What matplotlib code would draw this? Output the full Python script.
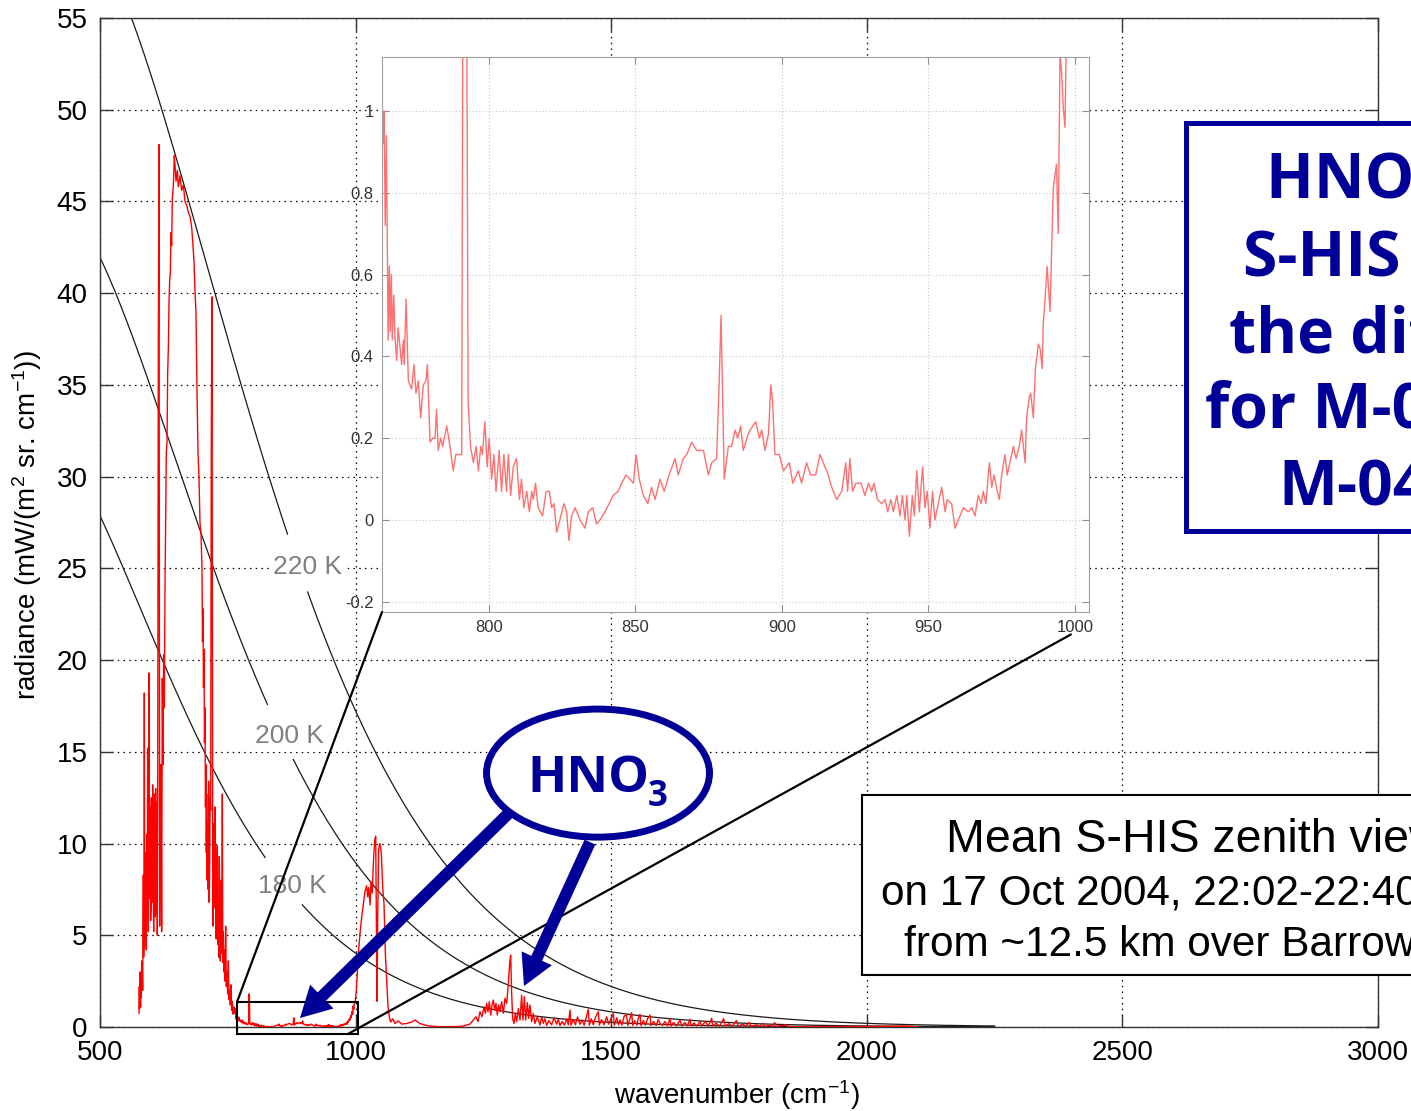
import numpy as np
import matplotlib
matplotlib.use("Agg")
import matplotlib.pyplot as plt
from matplotlib.patches import Rectangle, Ellipse, FancyArrowPatch, ConnectionPatch, ArrowStyle

plt.rcParams['font.family'] = ['Liberation Sans', 'DejaVu Sans']
plt.rcParams['mathtext.fontset'] = 'custom'
plt.rcParams['mathtext.rm'] = 'Liberation Sans'
plt.rcParams['mathtext.it'] = 'Liberation Sans:italic'
plt.rcParams['mathtext.bf'] = 'Liberation Sans:bold'

# ---- mean zenith-view radiance spectrum, mW/(m^2 sr cm^-1) vs wavenumber cm^-1 ----
# CO2 band
co2_wn = [576.3, 576.9, 577.5, 578.2, 578.8, 579.5, 580.1, 580.8, 581.5, 582.1,
          582.8, 583.5, 584.1, 584.8, 585.4, 586.1, 586.7, 587.3, 588.0, 588.6,
          589.3, 589.9, 590.6, 591.2, 591.9, 592.5, 593.2, 593.8, 594.5, 595.1,
          595.8, 596.4, 597.1, 597.8, 598.5, 599.1, 599.8, 600.4, 601.1, 601.7,
          602.4, 603.0, 603.7, 604.3, 605.0, 605.6, 606.3, 606.9, 607.6, 608.2,
          608.9, 609.5, 610.2, 610.8, 611.5, 612.1, 612.8, 614.1, 615.4, 616.7,
          618.0, 619.3, 620.6, 621.9, 623.2, 624.5, 625.8, 627.1, 628.4, 629.7,
          631.1, 632.4, 633.7, 635.0, 636.3, 637.6, 638.9, 640.2, 641.5, 643.4,
          645.4, 646.7, 648.7, 651.3, 653.2, 656.5, 659.7, 663.0, 666.3, 669.5,
          672.8, 676.0, 679.3, 681.9, 683.9, 685.8, 687.8, 689.7, 691.7, 693.6,
          695.6, 697.6, 699.5, 700.5, 701.5, 702.4, 703.4, 704.4, 705.4, 706.3,
          707.3, 708.0, 708.6, 709.6, 710.6, 711.6, 712.6, 713.5, 714.5, 715.5,
          716.5, 717.8, 719.1, 720.4, 721.3, 722.3, 723.0, 723.6, 724.6, 725.6,
          726.5, 727.5, 728.5, 729.5, 730.5, 731.5, 732.4, 733.4, 734.4, 735.4,
          736.3, 737.3, 738.3, 739.3, 740.2, 741.2, 742.2, 743.2, 744.5, 745.8,
          747.1, 748.4, 749.7, 751.0, 752.3, 753.6, 754.9, 756.2, 757.5, 758.8,
          760.1, 761.4]
co2_rad = [0.75, 2.2, 1.0, 3.0, 1.5, 1.1, 2.8, 1.6, 3.6, 2.2,
           3.1, 2.0, 5.5, 8.3, 3.8, 4.5, 18.2, 6.0, 4.8, 9.5,
           7.7, 5.0, 4.2, 10.5, 8.3, 6.2, 15.2, 7.5, 5.2, 11.5,
           19.3, 8.0, 7.0, 12.0, 9.6, 5.8, 6.5, 12.5, 11.1, 6.8,
           8.0, 13.2, 11.8, 7.2, 5.2, 10.8, 12.7, 8.5, 10.2, 6.0,
           13.0, 9.0, 6.2, 12.2, 11.1, 5.0, 12.0, 37.3, 48.1, 5.5,
           11.1, 14.3, 5.2, 19.0, 14.3, 20.3, 17.4, 23.7, 27.5, 31.3,
           31.9, 35.7, 37.0, 39.5, 40.7, 41.1, 43.3, 42.6, 45.2, 45.8,
           47.5, 47.0, 46.1, 46.7, 45.8, 46.4, 45.6, 45.9, 45.0, 44.8,
           44.4, 44.2, 43.6, 42.6, 41.7, 40.1, 38.9, 34.8, 31.3, 30.0,
           27.5, 26.9, 25.0, 21.0, 22.8, 18.5, 20.6, 15.5, 17.4, 12.0,
           14.3, 9.5, 12.7, 8.0, 11.1, 7.5, 13.4, 6.8, 8.6, 12.5,
           11.8, 32.6, 39.8, 9.6, 5.5, 11.1, 7.8, 6.5, 12.0, 10.2,
           5.0, 4.8, 8.8, 9.9, 4.5, 7.0, 3.8, 9.3, 5.5, 3.6,
           6.5, 8.0, 4.0, 12.7, 3.5, 5.2, 3.0, 4.2, 2.5, 5.5,
           2.2, 3.0, 1.8, 3.6, 1.5, 2.0, 1.2, 2.3, 0.9, 1.4,
           0.7, 1.1]

# atmospheric window (shown enlarged in the inset)
window_wn = [763.6, 763.9, 764.2, 764.6, 765.0, 765.3, 765.6, 766.0, 766.3, 766.7,
             767.0, 767.5, 767.9, 768.5, 769.0, 769.4, 770.2, 770.8, 771.1, 771.7,
             772.5, 773.6, 774.4, 775.1, 775.9, 776.7, 777.6, 778.5, 779.0, 779.9,
             780.8, 781.6, 782.1, 782.7, 783.5, 784.2, 785.6, 786.7, 787.8, 788.7,
             790.1, 790.7, 791.3, 792.2, 792.9, 793.7, 794.7, 795.6, 796.4, 797.2,
             797.8, 798.6, 799.4, 800.1, 800.9, 801.7, 802.4, 803.5, 804.3, 805.1,
             806.0, 806.6, 807.4, 808.3, 809.4, 810.4, 811.1, 811.9, 812.9, 813.8,
             814.6, 815.1, 815.9, 816.8, 818.3, 819.5, 820.6, 821.4, 822.2, 823.1,
             824.2, 825.6, 826.5, 827.3, 828.2, 829.4, 831.1, 832.8, 833.9, 835.4,
             836.7, 837.9, 839.6, 842.4, 844.1, 845.3, 846.8, 848.1, 849.3, 850.2,
             851.3, 852.7, 854.2, 855.5, 856.7, 858.4, 859.8, 861.5, 863.5, 864.6,
             866.3, 867.5, 869.2, 870.9, 873.2, 874.9, 876.0, 877.7, 878.6, 879.2,
             879.8, 880.3, 881.7, 882.8, 884.0, 884.9, 885.9, 886.8, 888.5, 889.1,
             891.1, 892.3, 893.1, 894.2, 895.4, 896.2, 896.8, 897.6, 899.1, 900.5,
             902.5, 903.7, 905.6, 906.7, 908.4, 909.8, 911.5, 913.0, 914.1, 915.8,
             917.0, 918.7, 920.4, 921.8, 922.4, 923.2, 924.1, 925.3, 927.0, 928.3,
             929.5, 930.6, 931.4, 932.6, 934.0, 935.2, 936.1, 937.2, 938.0, 939.2,
             940.3, 941.1, 942.0, 942.6, 943.5, 944.5, 945.2, 946.0, 946.9, 948.0,
             948.8, 949.6, 950.5, 951.4, 952.2, 953.4, 954.5, 955.7, 956.4, 957.9,
             959.1, 960.2, 961.9, 963.6, 964.8, 965.9, 967.0, 968.0, 968.7, 969.6,
             970.8, 971.6, 972.4, 973.5, 974.2, 975.0, 976.1, 976.9, 977.8, 979.0,
             979.9, 981.0, 981.8, 983.0, 983.5, 984.4, 984.9, 985.8, 986.5, 987.5,
             988.1, 988.8, 989.2, 989.8, 990.5, 991.5, 992.6, 993.7, 994.3, 994.9,
             995.4, 996.0, 996.6, 997.2, 998.5, 1000.0, 1001.5]
window_rad = [1.02, 0.92, 1.00, 0.72, 0.94, 0.70, 0.44, 0.62, 0.46, 0.60,
              0.44, 0.55, 0.45, 0.39, 0.47, 0.44, 0.38, 0.44, 0.38, 0.54,
              0.34, 0.32, 0.38, 0.31, 0.34, 0.25, 0.33, 0.34, 0.38, 0.19,
              0.20, 0.20, 0.27, 0.17, 0.20, 0.18, 0.23, 0.18, 0.12, 0.16,
              0.16, 0.16, 1.80, 1.70, 0.29, 0.18, 0.14, 0.18, 0.12, 0.18,
              0.16, 0.24, 0.13, 0.20, 0.10, 0.16, 0.07, 0.17, 0.07, 0.16,
              0.07, 0.16, 0.06, 0.13, 0.15, 0.05, 0.10, 0.03, 0.07, 0.02,
              0.07, 0.05, 0.09, 0.03, 0.01, 0.07, 0.07, 0.03, 0.04, -0.03,
              0.00, 0.04, 0.02, -0.05, 0.01, 0.03, 0.00, -0.02, 0.02, 0.03,
              -0.01, 0.00, 0.02, 0.06, 0.07, 0.09, 0.11, 0.10, 0.09, 0.16,
              0.10, 0.06, 0.04, 0.08, 0.05, 0.10, 0.07, 0.11, 0.15, 0.11,
              0.15, 0.16, 0.19, 0.17, 0.17, 0.11, 0.14, 0.15, 0.34, 0.50,
              0.29, 0.10, 0.18, 0.18, 0.22, 0.20, 0.23, 0.17, 0.21, 0.22,
              0.24, 0.20, 0.22, 0.17, 0.21, 0.33, 0.29, 0.16, 0.16, 0.12,
              0.14, 0.09, 0.12, 0.09, 0.14, 0.11, 0.11, 0.16, 0.14, 0.11,
              0.08, 0.05, 0.07, 0.14, 0.07, 0.15, 0.07, 0.09, 0.09, 0.06,
              0.09, 0.07, 0.09, 0.05, 0.04, 0.05, 0.02, 0.05, 0.02, 0.06,
              0.01, 0.06, 0.00, 0.06, -0.04, 0.06, 0.01, 0.12, 0.02, 0.13,
              0.03, 0.07, -0.02, 0.07, 0.00, 0.04, 0.08, 0.02, 0.05, 0.04,
              -0.02, 0.00, 0.03, 0.02, 0.03, 0.01, 0.06, 0.04, 0.07, 0.04,
              0.14, 0.08, 0.11, 0.07, 0.05, 0.11, 0.16, 0.11, 0.14, 0.18,
              0.15, 0.18, 0.22, 0.14, 0.25, 0.30, 0.31, 0.25, 0.37, 0.43,
              0.42, 0.37, 0.48, 0.54, 0.62, 0.51, 0.81, 0.87, 0.70, 1.14,
              1.10, 1.01, 0.96, 1.25, 1.30, 1.60, 2.00]

# ozone band and water-vapour region
o3_h2o_wn = [1002.1, 1005.4, 1008.6, 1011.9, 1015.1, 1018.4, 1021.7, 1023.6, 1025.6, 1028.2,
             1030.1, 1032.7, 1034.7, 1037.3, 1039.3, 1040.6, 1041.9, 1043.2, 1045.1, 1047.7,
             1050.3, 1053.0, 1055.6, 1058.2, 1060.8, 1063.4, 1066.0, 1068.6, 1072.5, 1077.1,
             1083.6, 1090.1, 1099.9, 1109.7, 1116.2, 1120.8, 1126.0, 1135.8, 1145.5, 1165.1,
             1191.2, 1210.7, 1223.8, 1230.3, 1235.5, 1239.4, 1243.3, 1247.3, 1251.2, 1253.8,
             1256.4, 1259.0, 1261.6, 1264.2, 1266.8, 1269.4, 1272.0, 1274.6, 1277.2, 1279.8,
             1282.5, 1285.7, 1289.0, 1292.2, 1295.5, 1298.8, 1301.4, 1303.3, 1305.3, 1307.2,
             1309.8, 1312.5, 1315.1, 1318.3, 1321.6, 1324.8, 1327.4, 1330.1, 1332.7, 1335.9,
             1338.5, 1341.1, 1344.4, 1347.7, 1350.9, 1355.5, 1360.7, 1364.0, 1367.2, 1370.5,
             1373.7, 1378.0, 1383.5, 1388.0, 1393.3, 1396.5, 1399.8, 1404.0, 1408.5, 1413.0,
             1416.0, 1419.4, 1421.3, 1426.0, 1430.0, 1434.0, 1438.9, 1443.0, 1447.0, 1451.0,
             1455.2, 1457.2, 1461.0, 1465.0, 1469.5, 1474.8, 1476.8, 1481.0, 1486.0, 1491.1,
             1495.0, 1499.5, 1504.1, 1506.1, 1511.0, 1514.0, 1517.2, 1521.0, 1525.5, 1530.2,
             1532.2, 1536.0, 1540.0, 1542.0, 1546.0, 1550.5, 1553.0, 1556.3, 1558.3, 1563.0,
             1567.0, 1571.0, 1575.9, 1577.8, 1583.0, 1588.0, 1592.0, 1595.4, 1600.0, 1605.0,
             1610.0, 1615.0, 1617.0, 1622.0, 1628.0, 1634.5, 1638.0, 1644.0, 1649.0, 1654.1,
             1656.1, 1662.0, 1667.0, 1673.7, 1677.0, 1684.0, 1690.0, 1696.5, 1698.4, 1705.0,
             1712.0, 1720.0, 1723.0, 1730.0, 1737.0, 1745.0, 1748.0, 1758.0, 1763.0, 1770.0,
             1773.0, 1785.0, 1790.0, 1797.0, 1800.0, 1810.0, 1815.0, 1820.0, 1823.0, 1843.0,
             1846.0, 1900.0, 2000.0, 2075.0, 2100.0]
o3_h2o_rad = [2.3, 4.0, 5.1, 6.0, 6.7, 7.4, 7.7, 7.1, 7.6, 6.65,
              7.9, 7.3, 8.9, 10.2, 10.4, 5.8, 1.4, 5.8, 9.7, 10.0,
              9.5, 7.6, 6.7, 4.0, 2.6, 1.1, 0.55, 0.27, 0.45, 0.19,
              0.33, 0.16, 0.19, 0.27, 0.38, 0.29, 0.19, 0.10, 0.05, 0.02,
              0.02, 0.05, 0.16, 0.38, 0.56, 0.29, 0.83, 0.56, 1.10, 0.74,
              1.29, 0.83, 1.38, 0.65, 1.20, 1.47, 0.92, 1.29, 0.65, 1.20,
              0.83, 1.38, 0.74, 1.56, 1.29, 2.38, 3.47, 3.92, 1.83, 0.47,
              0.19, 0.74, 0.29, 1.00, 0.38, 1.74, 0.38, 1.65, 0.38, 1.33,
              0.47, 1.20, 0.29, 0.74, 0.19, 0.56, 0.10, 0.55, 0.20, 0.45,
              0.08, 0.35, 0.12, 0.50, 0.15, 0.42, 0.08, 0.30, 0.10, 0.45,
              0.12, 0.92, 0.10, 0.40, 0.12, 0.55, 0.15, 0.38, 0.10, 0.50,
              0.96, 0.10, 0.45, 0.12, 0.55, 0.83, 0.10, 0.40, 0.12, 0.55,
              0.15, 0.45, 0.74, 0.10, 0.50, 0.12, 0.38, 0.10, 0.60, 0.65,
              0.08, 0.40, 0.78, 0.08, 0.35, 0.10, 0.50, 0.69, 0.08, 0.35,
              0.10, 0.45, 0.65, 0.08, 0.30, 0.08, 0.40, 0.20, 0.08, 0.30,
              0.06, 0.47, 0.06, 0.25, 0.06, 0.38, 0.06, 0.25, 0.06, 0.42,
              0.06, 0.22, 0.05, 0.29, 0.05, 0.30, 0.05, 0.47, 0.06, 0.20,
              0.04, 0.45, 0.05, 0.18, 0.04, 0.35, 0.05, 0.15, 0.04, 0.25,
              0.04, 0.12, 0.03, 0.20, 0.03, 0.10, 0.03, 0.24, 0.03, 0.12,
              0.02, 0.02, 0.03, 0.05, 0.01]

# blackbody reference curves
planck_temps = [180, 200, 220]
planck_label_wn = [858, 852, 886]
planck_labels = ['180 K', '200 K', '220 K']

x_ticks = [500, 1000, 1500, 2000, 2500, 3000]
y_ticks = list(range(0, 56, 5))
inset_x_ticks = [800, 850, 900, 950, 1000]
inset_y_ticks = [-0.2, 0, 0.2, 0.4, 0.6, 0.8, 1]
inset_y_labels = ['-0.2', '0', '0.2', '0.4', '0.6', '0.8', '1']

zoom_box = (768, 1004, -0.38, 1.36)   # wn0, wn1, r0, r1

wn = np.array(co2_wn + window_wn + o3_h2o_wn)
rad = np.array(co2_rad + window_rad + o3_h2o_rad)

W, H = 1411, 1111
fig = plt.figure(figsize=(W / 100, H / 100), dpi=100)
ax = fig.add_axes([100 / W, 84 / H, 1278 / W, 1009 / H])
ax.set_xlim(500, 3000)
ax.set_ylim(0, 55)


def planck(nu, T):
    c1 = 1.191042e-5   # mW/(m^2 sr cm^-4)
    c2 = 1.4387752     # cm K
    return c1 * nu ** 3 / np.expm1(c2 * nu / T)


nu_bb = np.linspace(500, 2250, 2000)
for T, lab_wn, lab in zip(planck_temps, planck_label_wn, planck_labels):
    b = planck(nu_bb, T)
    disp = ax.transData.transform(np.column_stack([nu_bb, b]))
    c = ax.transData.transform((lab_wn, planck(lab_wn, T)))
    d = np.hypot(disp[:, 0] - c[0], disp[:, 1] - c[1])
    b = np.where(d < 30, np.nan, b)
    ax.plot(nu_bb, b, color='#1a1a1a', lw=0.9, zorder=2)
    ax.annotate(lab, (lab_wn, planck(lab_wn, T)), xytext=(7, -3),
                textcoords='offset points', ha='center', va='center',
                fontsize=19, color='#808080', zorder=2.5,
                bbox=dict(boxstyle='square,pad=0.15', fc='white', ec='none'))

ax.plot(wn, rad, color='#ff0000', lw=1.0, zorder=3)

ax.add_patch(Rectangle((zoom_box[0], zoom_box[2]), zoom_box[1] - zoom_box[0],
                       zoom_box[3] - zoom_box[2], fill=False, ec='k', lw=1.5,
                       clip_on=False, zorder=4))

ax.set_xticks(x_ticks)
ax.set_yticks(y_ticks)
ax.tick_params(direction='in', length=9, width=1, top=True, right=True,
               labelsize=20, pad=9, color='#333333')
ax.grid(True, color='k', linestyle=(0, (1.2, 3.4)), lw=0.9)
for s in ax.spines.values():
    s.set_color('#333333')
    s.set_linewidth(1.0)
ax.set_xlabel(r'wavenumber (cm$^{-1}$)', fontsize=20)
ax.set_ylabel(r'radiance (mW/(m$^2$ sr. cm$^{-1}$))', fontsize=20)
ax.xaxis.set_label_coords(0.4984, -0.051)
ax.yaxis.set_label_coords(-0.044, 0.497)

# inset
ins = fig.add_axes([382 / W, (H - 612) / H, 707 / W, 555 / H])
ins.plot(wn, rad, color='#ff7070', lw=1.0)
ins.set_xlim(763.5, 1004.8)
ins.set_ylim(-0.225, 1.132)
ins.set_xticks(inset_x_ticks)
ins.set_yticks(inset_y_ticks)
ins.set_yticklabels(inset_y_labels)
ins.tick_params(direction='in', length=5, color='#909090', labelcolor='#333333',
                labelsize=12, top=True, right=True, pad=6)
ins.grid(True, color='#c8c8c8', linestyle=(0, (1, 2)), lw=0.8)
for s in ins.spines.values():
    s.set_color('#a0a0a0')

# connector lines from the zoom box to the inset
con1 = ConnectionPatch(xyA=(zoom_box[0], zoom_box[3]), coordsA=ax.transData,
                       xyB=(0, 0), coordsB=ins.transAxes, color='k', lw=1.6, zorder=5)
con2 = ConnectionPatch(xyA=(985, zoom_box[2]), coordsA=ax.transData,
                       xyB=(998.6, -0.28), coordsB=ins.transData, color='k', lw=1.6, zorder=5)
fig.add_artist(con1)
fig.add_artist(con2)

navy = '#000099'

# HNO3 callout
ell = Ellipse((1474.2, 13.84), width=436.2, height=6.98, transform=ax.transData,
              fc='white', ec=navy, lw=5, zorder=7)
fig.add_artist(ell)
ax_txt_kw = dict(transform=ax.transData, color=navy, fontweight='bold',
                 family=['Open Sans', 'DejaVu Sans'], va='baseline', ha='left', zorder=8)
fig.text(1335.3, 12.81, 'HNO', fontsize=37, **ax_txt_kw)
fig.text(1572.0, 12.04, '3', fontsize=25, **ax_txt_kw)

arrow_style = ArrowStyle('simple', head_length=22, head_width=24, tail_width=8.5)
for tail, tip in [((1302.0, 11.72), (891.2, 0.49)), ((1458.5, 10.08), (1329.4, 2.23))]:
    fig.add_artist(FancyArrowPatch(tail, tip, transform=ax.transData,
                                   arrowstyle=arrow_style, mutation_scale=1,
                                   shrinkA=0, shrinkB=0, fc=navy, ec=navy, lw=0, zorder=7))


def px(x, y):
    return x / W, 1 - y / H


# blue title box
fig.add_artist(Rectangle(px(1185.5, 530.5), 0.3, 408 / H, transform=fig.transFigure,
                         fc='white', ec=navy, lw=3.6, zorder=9))
title_lines = ['HNO\u2083 from', 'S-HIS is', 'the difference', 'for M-03 \u2013', 'M-04']
title_x = [1266, 1243, 1229, 1205, 1278]
title_y = [198, 275, 352, 428, 505]
for s, x, y in zip(title_lines, title_x, title_y):
    fig.text(*px(x, y), s, fontsize=45, fontweight='bold', color=navy,
             family=['Open Sans', 'DejaVu Sans'], va='baseline', ha='left', zorder=10)

# description box
fig.add_artist(Rectangle(px(862, 975), 0.5, 180 / H, transform=fig.transFigure,
                         fc='white', ec='k', lw=1.5, zorder=9))
desc_lines = ['Mean S-HIS zenith view', 'on 17 Oct 2004, 22:02-22:40 UT',
              'from ~12.5 km over Barrow']
desc_x = [946, 881, 904]
desc_y = [852, 905, 956]
desc_size = [33.5, 30.4, 30.4]
for s, x, y, fs in zip(desc_lines, desc_x, desc_y, desc_size):
    fig.text(*px(x, y), s, fontsize=fs, color='k', va='baseline', ha='left', zorder=10)

fig.savefig('out.png', dpi=100)
